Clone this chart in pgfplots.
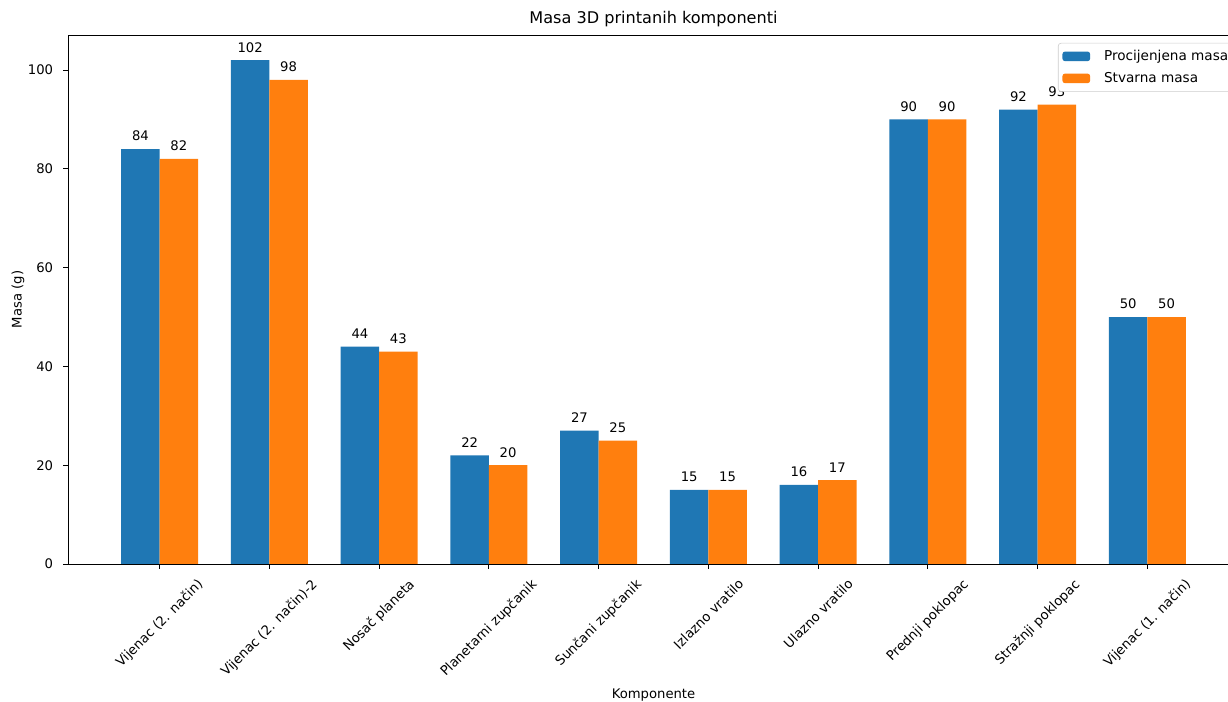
\documentclass[border=0pt]{standalone}
\usepackage{graphicx}
\usepackage{fontspec}
\setmainfont{DejaVu Sans}
\usepackage{pgfplots}
\pgfplotsset{compat=1.18}

\definecolor{mplblue}{HTML}{1F77B4}
\definecolor{mplorange}{HTML}{FF7F0E}
\newcommand{\rl}[1]{\rotatebox{45}{#1}}
\newcommand{\fs}{\fontsize{9.5}{11.4}\selectfont}

\begin{document}
\begin{tikzpicture}
\begin{axis}[
    scale only axis,
    width=843.12pt, height=380.88pt,
    xmin=-0.835, xmax=9.835,
    ymin=0, ymax=107.1,
    axis line style={black, line width=0.6pt},
    tick pos=left, tick align=outside,
    major tick length=3.3pt,
    tick style={black, line width=0.6pt},
    xtick={0,...,9},
    xticklabels={\rl{Vijenac (2. način)}, \rl{Vijenac (2. način)-2}, \rl{Nosač planeta},
        \rl{Planetarni zupčanik}, \rl{Sunčani zupčanik}, \rl{Izlazno vratilo},
        \rl{Ulazno vratilo}, \rl{Prednji poklopac}, \rl{Stražnji poklopac}, \rl{Vijenac (1. način)}},
    xticklabel style={font=\fs, anchor=north, inner sep=0pt, yshift=-6.5pt},
    ytick={0,20,40,60,80,100},
    yticklabel style={font=\fs, inner sep=0pt, xshift=-7.2pt},
    /pgf/number format/assume math mode=true,
    title={Masa 3D printanih komponenti},
    title style={font=\fontsize{11.6}{14}\selectfont, at={(axis description cs:0.5,1)}, anchor=base, inner sep=0pt, yshift=2.2pt},
    xlabel={Komponente},
    xlabel style={font=\fs, at={(axis description cs:0.5,-0.2363)}, anchor=north, inner sep=0pt},
    ylabel={Masa (g)},
    ylabel style={font=\fs, at={(axis description cs:-0.0427,0.5)}, anchor=center, inner sep=0pt},
    ybar, bar width=0.35,
    nodes near coords,
    every node near coord/.append style={font=\fs, anchor=south, inner sep=0pt, yshift=5.5pt, black},
    legend cell align=left,
    legend image code/.code={\fill[#1,draw=none] (0pt,-3.5pt) rectangle (20pt,3.5pt);},
    legend style={at={(axis description cs:0.8454,0.985)}, anchor=north west,
        draw=black!20, rounded corners=2pt, fill=white, font=\fontsize{9.8}{11.8}\selectfont,
        inner xsep=3pt, inner ysep=3pt, row sep=3pt,
        /tikz/every odd column/.append style={column sep=8pt}},
]
\addplot[fill=mplblue, draw=none, bar shift=-0.175] coordinates {
    (0,84) (1,102) (2,44) (3,22) (4,27) (5,15) (6,16) (7,90) (8,92) (9,50)};
\addlegendentry{Procijenjena masa}
\addplot[fill=mplorange, draw=none, bar shift=0.175] coordinates {
    (0,82) (1,98) (2,43) (3,20) (4,25) (5,15) (6,17) (7,90) (8,93) (9,50)};
\addlegendentry{Stvarna masa}
\end{axis}
\pgfresetboundingbox
\path[use as bounding box] (-48.96pt,-99.36pt) rectangle (835.2pt,406.08pt);
\end{tikzpicture}
\end{document}
